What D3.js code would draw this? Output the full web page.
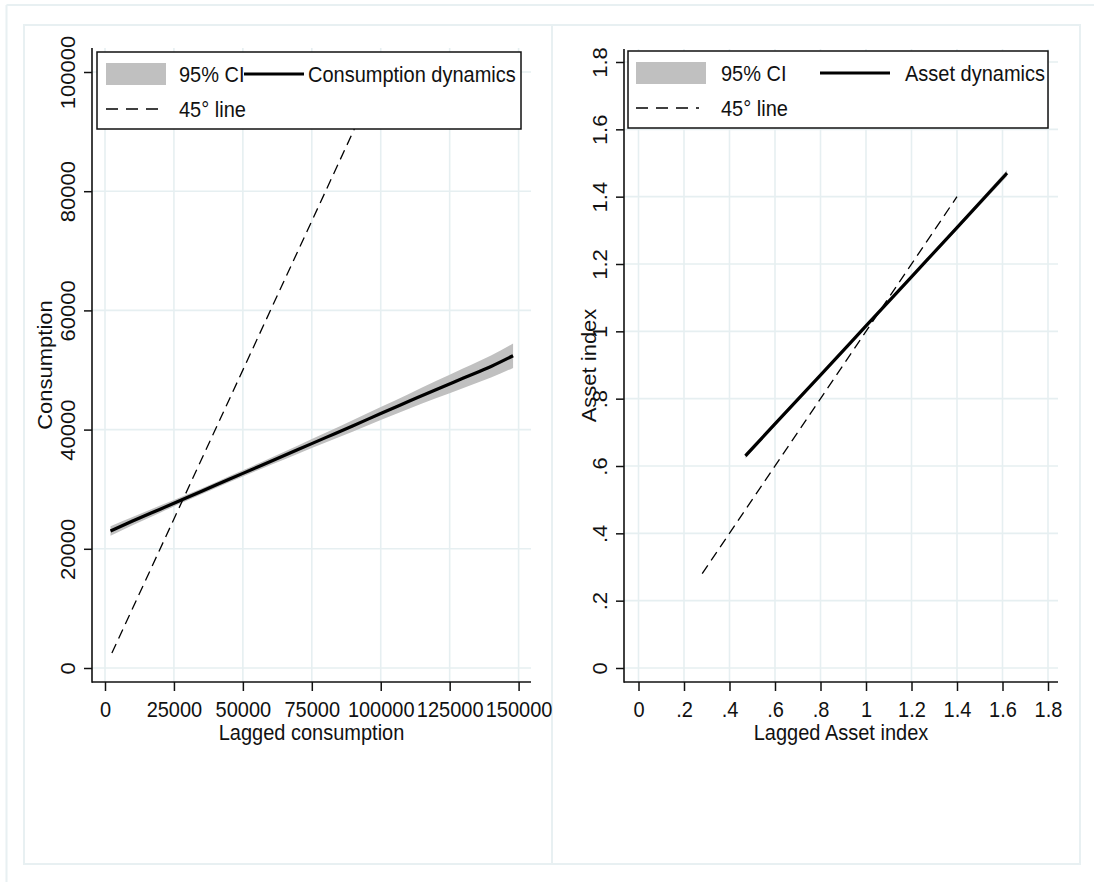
<!DOCTYPE html>
<html>
<head>
<meta charset="utf-8">
<script src="https://cdn.jsdelivr.net/npm/d3@7"></script>
<style>
  html, body { margin: 0; padding: 0; background: #fff; }
  svg { display: block; }
  text { font-family: "Liberation Sans", Arial, sans-serif; fill: #111; }
</style>
</head>
<body>
<svg id="chart" width="1094" height="882"></svg>
<script>
// ---------- Data ----------
// Left panel: consumption dynamics
const consX   = [2000, 10000, 20000, 30000, 40000, 50000, 60000, 70000, 80000, 90000, 100000, 110000, 120000, 130000, 140000, 148000];
const consFit = [23000, 24650, 26650, 28650, 30650, 32650, 34650, 36650, 38650, 40650, 42700, 44700, 46700, 48650, 50600, 52400];
const consLo  = [22200, 23950, 26050, 28150, 30170, 32130, 34050, 35950, 37830, 39700, 41600, 43450, 45250, 47000, 48750, 50350];
const consHi  = [23800, 25350, 27250, 29150, 31130, 33170, 35250, 37350, 39470, 41600, 43800, 45950, 48150, 50300, 52450, 54450];
const consDiag = [2500, 100000];
const consXTicks = [0, 25000, 50000, 75000, 100000, 125000, 150000];
const consYTicks = [0, 20000, 40000, 60000, 80000, 100000];

// Right panel: asset dynamics
const assetX   = [0.47, 0.6, 0.8, 1.0, 1.2, 1.4, 1.62];
const assetFit = [0.630, 0.725, 0.870, 1.016, 1.162, 1.308, 1.470];
const assetLo  = [0.622, 0.719, 0.866, 1.013, 1.158, 1.302, 1.461];
const assetHi  = [0.638, 0.731, 0.874, 1.019, 1.166, 1.314, 1.479];
const assetDiag = [0.28, 1.4];
const assetTicks = [0, 0.2, 0.4, 0.6, 0.8, 1.0, 1.2, 1.4, 1.6, 1.8];
const assetTickLabels = ["0", ".2", ".4", ".6", ".8", "1", "1.2", "1.4", "1.6", "1.8"];

// ---------- Drawing ----------
const svg = d3.select("#chart");
const FRAME = "#e8f0f2";
const GRID = "#e6eff1";
const BAND = "#c0c0c0";
const FS = 20;       // font size
const SY = 1.1;      // vertical stretch of the original rendering

// outer frames
svg.append("line").attr("x1", 6.5).attr("y1", 5).attr("x2", 1094).attr("y2", 5)
  .attr("stroke", FRAME).attr("stroke-width", 2);
svg.append("line").attr("x1", 6.5).attr("y1", 5).attr("x2", 6.5).attr("y2", 882)
  .attr("stroke", FRAME).attr("stroke-width", 2);
svg.append("rect").attr("x", 24).attr("y", 25).attr("width", 528).attr("height", 839)
  .attr("fill", "none").attr("stroke", FRAME).attr("stroke-width", 2);
svg.append("rect").attr("x", 552).attr("y", 25).attr("width", 528).attr("height", 839)
  .attr("fill", "none").attr("stroke", FRAME).attr("stroke-width", 2);

function panel(cfg) {
  const g = svg.append("g");
  const x = d3.scaleLinear().domain(cfg.xDomain).range(cfg.xRange);
  const y = d3.scaleLinear().domain(cfg.yDomain).range(cfg.yRange);
  const axX = cfg.axisX, axY = cfg.axisY; // axis line positions
  const left = axX, right = cfg.axisRight, top = cfg.axisTop, bottom = axY;

  // grid
  g.append("g").selectAll("line").data(cfg.xTicks).join("line")
    .attr("x1", d => x(d)).attr("x2", d => x(d)).attr("y1", top).attr("y2", bottom)
    .attr("stroke", GRID).attr("stroke-width", 1.6);
  g.append("g").selectAll("line").data(cfg.yTicks).join("line")
    .attr("y1", d => y(d)).attr("y2", d => y(d)).attr("x1", left).attr("x2", right)
    .attr("stroke", GRID).attr("stroke-width", 1.6);

  // CI band
  const pts = cfg.px.map((v, i) => ({ x: v, lo: cfg.lo[i], hi: cfg.hi[i], f: cfg.fit[i] }));
  g.append("path").datum(pts)
    .attr("d", d3.area().curve(d3.curveMonotoneX).x(d => x(d.x)).y0(d => y(d.lo)).y1(d => y(d.hi)))
    .attr("fill", BAND).attr("stroke", "none");
  // 45 degree line
  g.append("path").datum(cfg.diag)
    .attr("d", d3.line().x(d => x(d)).y(d => y(d)))
    .attr("fill", "none").attr("stroke", "#000").attr("stroke-width", 1.3)
    .attr("stroke-dasharray", "10,6");
  // fit line
  g.append("path").datum(pts)
    .attr("d", d3.line().curve(d3.curveMonotoneX).x(d => x(d.x)).y(d => y(d.f)))
    .attr("fill", "none").attr("stroke", "#000").attr("stroke-width", 3.2);

  // axes
  const xa = g.append("g").attr("transform", `translate(0,${axY})`)
    .call(d3.axisBottom(x).tickValues(cfg.xTicks).tickFormat((d, i) => cfg.xLabels[i]).tickSize(9).tickSizeOuter(0));
  xa.select(".domain").remove();
  xa.selectAll(".tick line").attr("stroke", "#111").attr("stroke-width", 1.5);
  xa.selectAll(".tick text").attr("y", null).attr("dy", null)
    .attr("transform", `translate(0,35) scale(1,${SY})`)
    .attr("font-size", FS).attr("fill", "#111").attr("font-family", null);

  const ya = g.append("g").attr("transform", `translate(${axX},0)`)
    .call(d3.axisLeft(y).tickValues(cfg.yTicks).tickFormat((d, i) => cfg.yLabels[i]).tickSize(8).tickSizeOuter(0));
  ya.select(".domain").remove();
  ya.selectAll(".tick line").attr("stroke", "#111").attr("stroke-width", 1.5);
  ya.selectAll(".tick text").attr("x", null).attr("dy", null).attr("text-anchor", "middle")
    .attr("transform", `translate(${cfg.yLabelBase - axX},0) scale(1,${SY}) rotate(-90)`)
    .attr("font-size", FS).attr("fill", "#111").attr("font-family", null);

  // axis lines
  g.append("line").attr("x1", axX).attr("x2", axX).attr("y1", top).attr("y2", axY + 0.75)
    .attr("stroke", "#111").attr("stroke-width", 1.6);
  g.append("line").attr("x1", axX).attr("x2", right).attr("y1", axY).attr("y2", axY)
    .attr("stroke", "#111").attr("stroke-width", 1.6);

  // axis titles
  g.append("text").text(cfg.xTitle).attr("text-anchor", "middle")
    .attr("transform", `translate(${(axX + right) / 2},740) scale(1,${SY})`)
    .attr("font-size", FS);
  g.append("text").text(cfg.yTitle).attr("text-anchor", "middle")
    .attr("transform", `translate(${cfg.yTitleBase},${(top + axY) / 2}) scale(1,${SY}) rotate(-90)`)
    .attr("font-size", FS);

  // legend
  const L = cfg.legend;
  g.append("rect").attr("x", L.x).attr("y", L.y).attr("width", L.w).attr("height", L.h)
    .attr("fill", "#fff").attr("stroke", "#111").attr("stroke-width", 1.5);
  g.append("rect").attr("x", L.swX).attr("y", L.r1 - 11).attr("width", L.swW).attr("height", 22)
    .attr("fill", BAND);
  const lt = (txt, tx, ty) => g.append("text").text(txt)
    .attr("transform", `translate(${tx},${ty + 8}) scale(1,${SY})`).attr("font-size", FS);
  lt("95% CI", L.t1, L.r1);
  g.append("line").attr("x1", L.lnX1).attr("x2", L.lnX2).attr("y1", L.r1).attr("y2", L.r1)
    .attr("stroke", "#000").attr("stroke-width", 3);
  lt(cfg.fitName, L.t2, L.r1);
  g.append("line").attr("x1", L.swX).attr("x2", L.dashX2).attr("y1", L.r2).attr("y2", L.r2)
    .attr("stroke", "#000").attr("stroke-width", 1.3).attr("stroke-dasharray", "12,8");
  lt("45° line", L.t1, L.r2);
}

panel({
  xDomain: [0, 150000], xRange: [105, 518.6],
  yDomain: [0, 100000], yRange: [668, 72],
  axisX: 92, axisY: 682, axisRight: 531, axisTop: 48,
  xTicks: consXTicks, xLabels: consXTicks.map(String),
  yTicks: consYTicks, yLabels: consYTicks.map(String),
  px: consX, fit: consFit, lo: consLo, hi: consHi, diag: consDiag,
  yLabelBase: 75, yTitleBase: 52,
  xTitle: "Lagged consumption", yTitle: "Consumption",
  fitName: "Consumption dynamics",
  legend: { x: 97, y: 52, w: 424, h: 77, swX: 106, swW: 60, r1: 74, r2: 109,
            t1: 179, lnX1: 244, lnX2: 304, t2: 308, dashX2: 166 }
});

panel({
  xDomain: [0, 1.8], xRange: [638.5, 1048],
  yDomain: [0, 1.8], yRange: [668, 62],
  axisX: 624, axisY: 682, axisRight: 1058, axisTop: 49,
  xTicks: assetTicks, xLabels: assetTickLabels,
  yTicks: assetTicks, yLabels: assetTickLabels,
  px: assetX, fit: assetFit, lo: assetLo, hi: assetHi, diag: assetDiag,
  yLabelBase: 607, yTitleBase: 596,
  xTitle: "Lagged Asset index", yTitle: "Asset index",
  fitName: "Asset dynamics",
  legend: { x: 628, y: 51, w: 420, h: 77, swX: 636, swW: 70, r1: 73, r2: 108,
            t1: 721, lnX1: 820, lnX2: 890, t2: 905, dashX2: 699 }
});
</script>
</body>
</html>
